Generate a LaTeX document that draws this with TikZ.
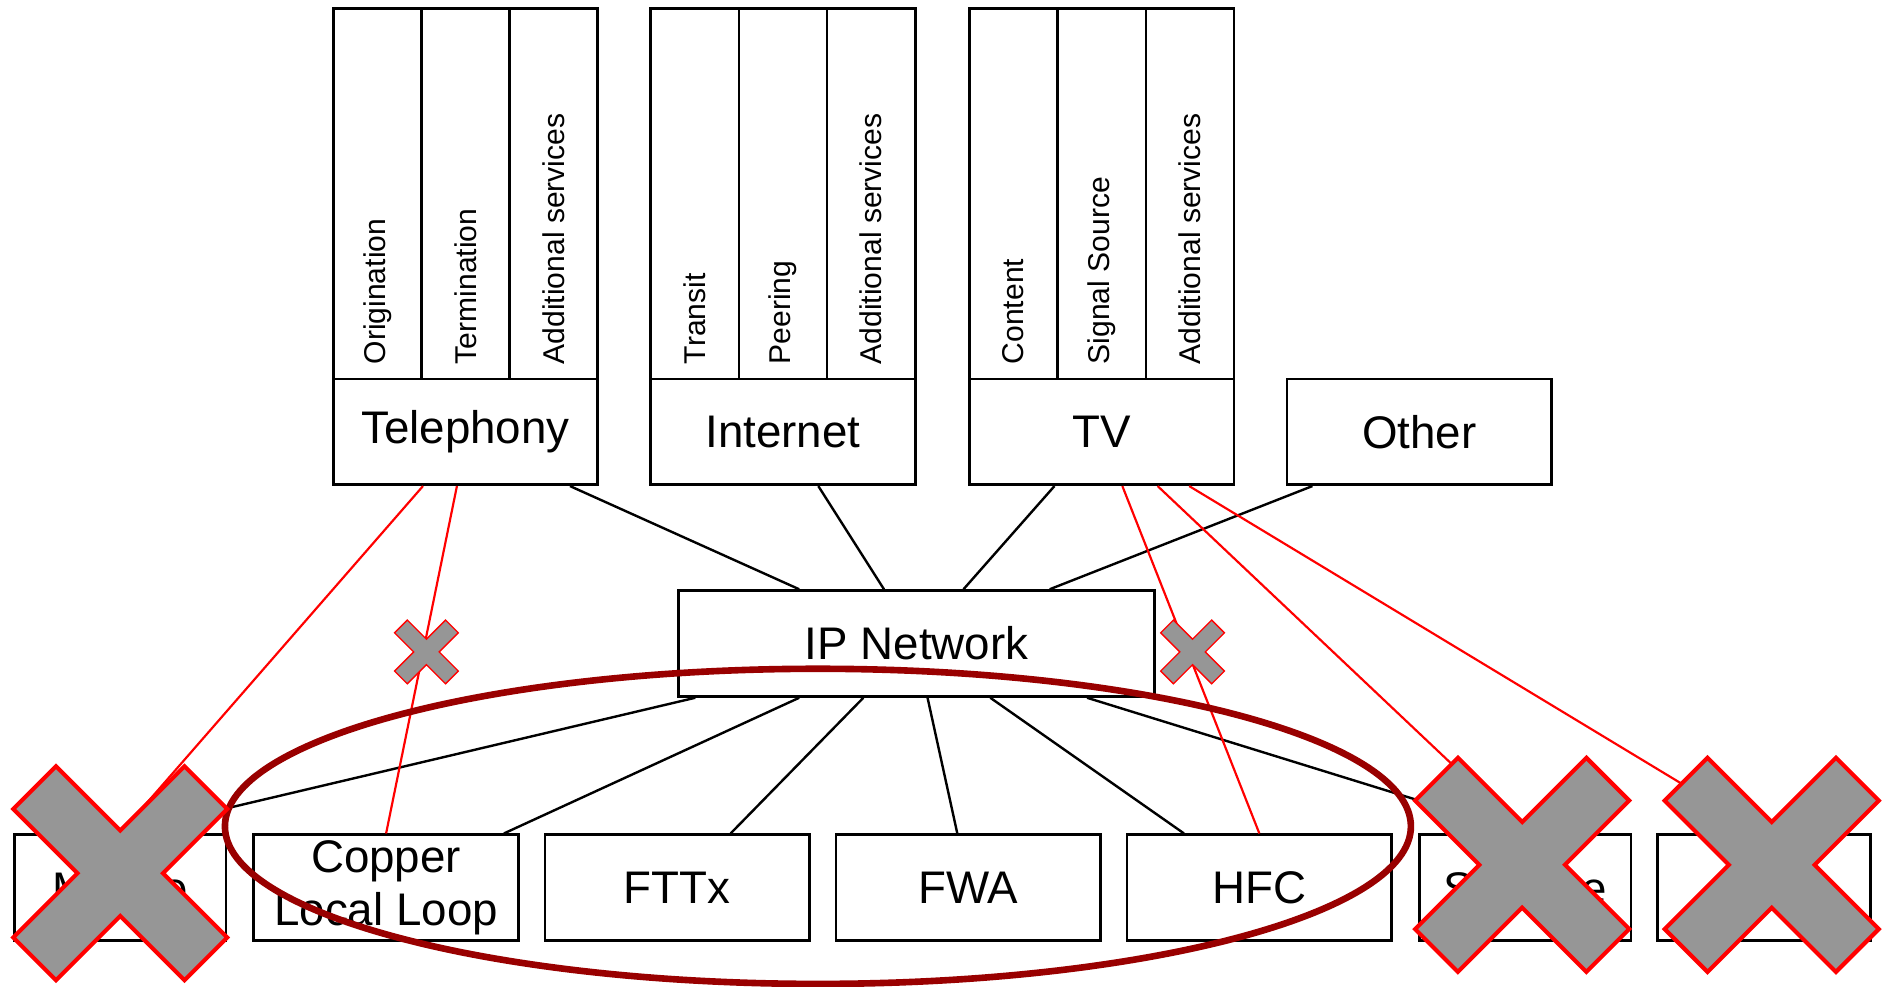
\documentclass[tikz,border=0pt]{standalone}
\usepackage{fontspec}
\setmainfont{Liberation Sans}
\usetikzlibrary{calc}
\definecolor{xgray}{RGB}{150,150,150}
\definecolor{ovalred}{RGB}{153,0,0}
\begin{document}
\begin{tikzpicture}[x=1pt,y=-1pt,
  box/.style={draw, line width=2.2pt, fill=white, inner sep=0pt, align=center,
    font=\fontsize{38}{44}\selectfont, minimum height=88pt},
  col/.style={draw, line width=2.2pt, fill=white, inner sep=0pt,
    minimum width=73.33pt, minimum height=308pt},
  collabel/.style={rotate=90, anchor=west, inner sep=0pt, font=\fontsize{25}{28}\selectfont},
  link/.style={line width=2pt, black},
  redlink/.style={line width=1.8pt, red},
  bigx/.style={fill=xgray, draw=red, line width=3.4pt, line join=miter},
  smallx/.style={fill=xgray, draw=red, line width=1.1pt, line join=miter},
  xmark/.pic={\path[pic actions] (0,0.4) -- (0.6,1) -- (1,0.6) -- (0.4,0) -- (1,-0.6) -- (0.6,-1)
     -- (0,-0.4) -- (-0.6,-1) -- (-1,-0.6) -- (-0.4,0) -- (-1,0.6) -- (-0.6,1) -- cycle;}
]
\useasboundingbox (0,0) rectangle (1568,820);

% Telephony
\node[box, minimum width=220pt] (tel) at (387,359) {Telephony};
\node[col] (tel1) at (313.67,161) {};
\node[col] (tel2) at (387,161) {};
\node[col] (tel3) at (460.33,161) {};
\node[collabel] (tel1t) at (313.67,303) {Origination};
\node[collabel] (tel2t) at (387,303) {Termination};
\node[collabel] (tel3t) at (460.33,303) {Additional services};

% Internet
\node[box, minimum width=220pt] (int) at (651,359) {Internet};
\node[col] (int1) at (577.67,161) {};
\node[col] (int2) at (651,161) {};
\node[col] (int3) at (724.33,161) {};
\node[collabel] (int1t) at (577.67,303) {Transit};
\node[collabel] (int2t) at (651,303) {Peering};
\node[collabel] (int3t) at (724.33,303) {Additional services};

% TV
\node[box, minimum width=220pt] (tv) at (916,359) {TV};
\node[col] (tv1) at (842.67,161) {};
\node[col] (tv2) at (916,161) {};
\node[col] (tv3) at (989.33,161) {};
\node[collabel] (tv1t) at (842.67,303) {Content};
\node[collabel] (tv2t) at (916,303) {Signal Source};
\node[collabel] (tv3t) at (989.33,303) {Additional services};

% Other
\node[box, minimum width=220pt] (oth) at (1180,359) {Other};

% IP network
\node[box, minimum width=396pt] (ip) at (762,535) {IP Network};

% access boxes
\node[box, minimum width=176pt] (mob) at (100,738) {Mobile};
\node[box, minimum width=220pt] (cop) at (321,738) {Copper\\Local Loop};
\node[box, minimum width=220pt] (ftt) at (563,738) {FTTx};
\node[box, minimum width=220pt] (fwa) at (805,738) {FWA};
\node[box, minimum width=220pt] (hfc) at (1047,738) {HFC};
\node[box, minimum width=176pt] (sat) at (1268,738) {Satellite};
\node[box, minimum width=177pt] (last) at (1466.5,738) {};

% black connectors
\draw[link] ($(tel.south west)!0.891!(tel.south east)$) -- ($(ip.north west)!0.255!(ip.north east)$);
\draw[link] ($(int.south west)!0.632!(int.south east)$) -- ($(ip.north west)!0.432!(ip.north east)$);
\draw[link] ($(tv.south west)!0.323!(tv.south east)$) -- ($(ip.north west)!0.598!(ip.north east)$);
\draw[link] ($(oth.south west)!0.1!(oth.south east)$) -- ($(ip.north west)!0.778!(ip.north east)$);
\draw[link] ($(ip.south west)!0.038!(ip.south east)$) -- (mob.north);
\draw[link] ($(ip.south west)!0.255!(ip.south east)$) -- ($(cop.north west)!0.941!(cop.north east)$);
\draw[link] ($(ip.south west)!0.389!(ip.south east)$) -- ($(ftt.north west)!0.7!(ftt.north east)$);
\draw[link] ($(ip.south west)!0.523!(ip.south east)$) -- ($(fwa.north west)!0.459!(fwa.north east)$);
\draw[link] ($(ip.south west)!0.654!(ip.south east)$) -- ($(hfc.north west)!0.218!(hfc.north east)$);
\draw[link] ($(ip.south west)!0.856!(ip.south east)$) -- (sat.north);

% red connectors
\draw[redlink] ($(tel.south west)!0.341!(tel.south east)$) -- (mob.north);
\draw[redlink] ($(tel.south west)!0.468!(tel.south east)$) -- (cop.north);
\draw[redlink] ($(tv.south west)!0.577!(tv.south east)$) -- (hfc.north);
\draw[redlink] ($(tv.south west)!0.709!(tv.south east)$) -- (sat.north);
\draw[redlink] ($(tv.south west)!0.827!(tv.south east)$) -- (last.north);

% oval
\draw[ovalred, line width=5.5pt] (680,687) ellipse [x radius=493, y radius=131];

% crosses
\pic[smallx, scale=26.5] at (354.5,542) {xmark};
\pic[smallx, scale=26.5] at (991.5,542) {xmark};
\pic[bigx, scale=89] at (100,726) {xmark};
\pic[bigx, scale=89] at (1265.5,719) {xmark};
\pic[bigx, scale=89] at (1473,719) {xmark};
\end{tikzpicture}
\end{document}
